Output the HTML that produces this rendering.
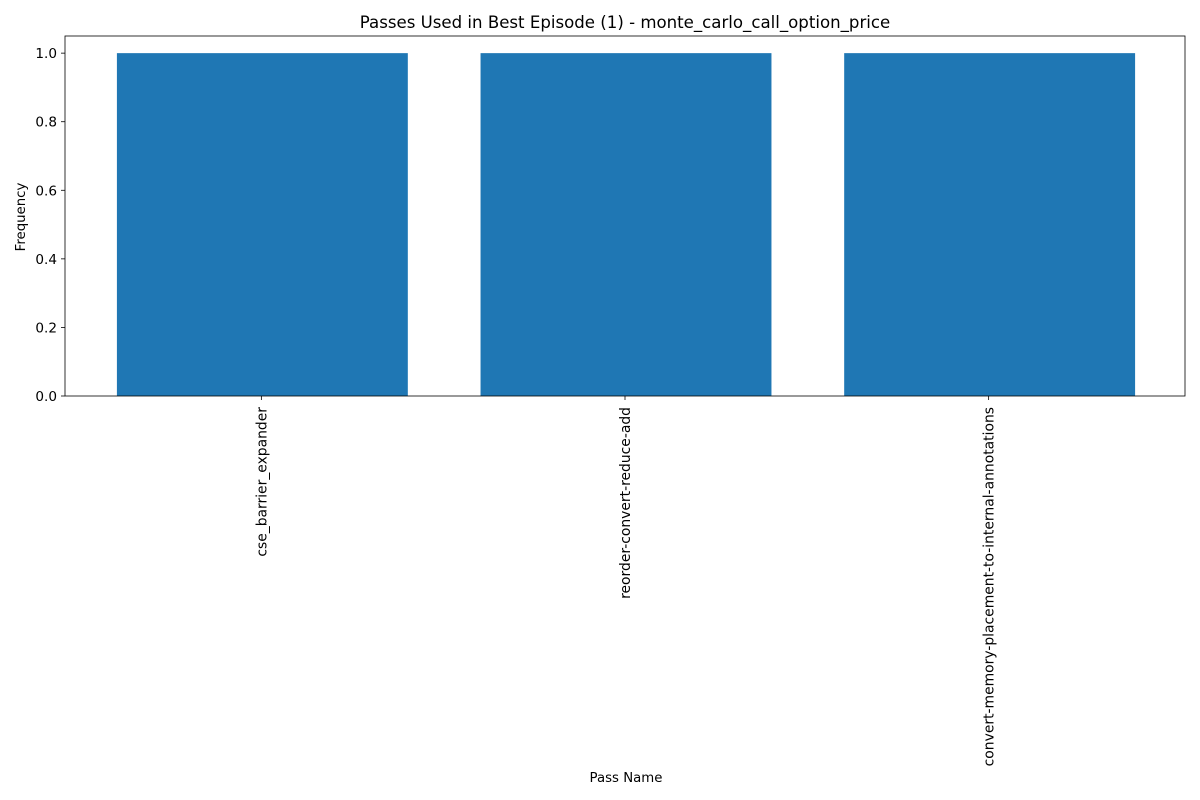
<!DOCTYPE html>
<html><head><meta charset="utf-8"><style>
html,body{margin:0;padding:0;background:#fff;}
svg{display:block;font-family:"DejaVu Sans","Liberation Sans",sans-serif;}
</style></head><body>
<svg id="chart" width="1200" height="800" viewBox="0 0 1200 800">
<rect x="0" y="0" width="1200" height="800" fill="#fff"/>
<text x="625" y="28" text-anchor="middle" font-size="16.6" fill="#000">Passes Used in Best Episode (1) - monte_carlo_call_option_price</text>
<g id="plot"></g>
<text x="626" y="782" text-anchor="middle" font-size="13.3" fill="#000">Pass Name</text>
<text transform="translate(25,217) rotate(-90)" text-anchor="middle" font-size="13.3" fill="#000">Frequency</text>
</svg>
<script>
const categories = ["cse_barrier_expander", "reorder-convert-reduce-add", "convert-memory-placement-to-internal-annotations"];
const values = [1, 1, 1];
const yTicks = [0.0, 0.2, 0.4, 0.6, 0.8, 1.0];

const L = 65, R = 1185, T = 36, B = 396;
const ymax = Math.max(...values) * 1.05;
const xmin = -0.4 - 0.05 * (categories.length - 1 + 0.8);
const xmax = categories.length - 1 + 0.4 + 0.05 * (categories.length - 1 + 0.8);
const xs = v => L + (v - xmin) / (xmax - xmin) * (R - L);
const ys = v => B - v / ymax * (B - T);
const NS = "http://www.w3.org/2000/svg";
const g = document.getElementById("plot");
function mk(tag, attrs, parent) {
  const e = document.createElementNS(NS, tag);
  for (const k in attrs) e.setAttribute(k, attrs[k]);
  (parent || g).appendChild(e);
  return e;
}
values.forEach((v, i) => {
  const r = mk("rect", {x: xs(i - 0.4) + 1, y: ys(v), width: xs(i + 0.4) - xs(i - 0.4), height: ys(0) - ys(v), fill: "#1f77b4"});
  
  
  const tk = mk("line", {x1: xs(i), x2: xs(i), y1: B, y2: B + 4, stroke: "#000", "stroke-width": 0.8});
  
  
  const t = mk("text", {transform: `translate(${xs(i) + 5},${B + 11}) rotate(-90)`, "text-anchor": "end", "font-size": 13.9, fill: "#000"});
  t.textContent = categories[i];
  
  
});
yTicks.forEach(v => {
  const tk = mk("line", {x1: L - 4, x2: L, y1: ys(v), y2: ys(v), stroke: "#000", "stroke-width": 0.8});
  
  
  const t = mk("text", {x: L - 8, y: ys(v) + 5, "text-anchor": "end", "font-size": 13.6, fill: "#000"});
  t.textContent = v.toFixed(1);
  
  
});
const frame = mk("rect", {x: L, y: T, width: R - L, height: B - T, fill: "none", stroke: "#000", "stroke-width": 0.8});


</script>
</body></html>
